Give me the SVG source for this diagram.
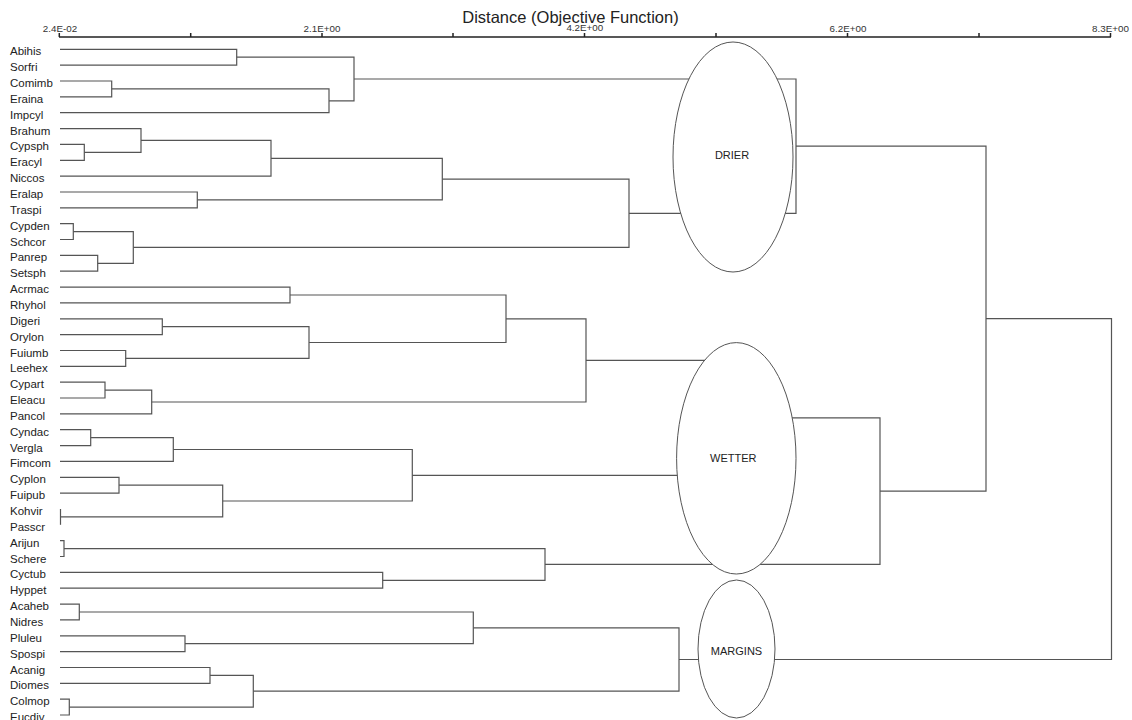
<svg xmlns="http://www.w3.org/2000/svg" width="1132" height="720" viewBox="0 0 1132 720">
<style>
text{font-family:"Liberation Sans",Arial,sans-serif;fill:#222}
.leaf{font-size:11.5px}
.ax{font-size:9.8px;text-anchor:middle;fill:#333}
.title{font-size:16.5px;text-anchor:middle}
.c{fill:none;stroke:#555;stroke-width:1.2}
.axis{fill:none;stroke:#222;stroke-width:1.5}
.cl{fill:#fff;stroke:#555;stroke-width:1}
.cll{font-size:11px;text-anchor:middle}
</style>
<rect width="1132" height="720" fill="#fff"/>
<g id="axis">
<text class="title" x="570.5" y="23.3">Distance (Objective Function)</text>
<path class="axis" d="M59 37H1111M59.3 33V37M190.7 33V37M322 33V37M453 33V37M584.5 33V37M716 33V37M847.5 33V37M979 33V37M1110.5 33V37"/>
<text class="ax" x="60" y="31.5">2.4E-02</text>
<text class="ax" x="322" y="31.5">2.1E+00</text>
<text class="ax" x="584.8" y="31">4.2E+00</text>
<text class="ax" x="848" y="31.5">6.2E+00</text>
<text class="ax" x="1110.5" y="31.5">8.3E+00</text>
</g>
<g id="connectors" class="c">
<path d="M60 49.3H236.7V65.2H60"/>
<path d="M60 81H111.7V96.9H60"/>
<path d="M111.7 88.9H329V112.7H60"/>
<path d="M236.7 57.2H354V100.8H329"/>
<path d="M60 144.4H84.3V160.3H60"/>
<path d="M60 128.6H141V152.3H84.3"/>
<path d="M141 140.4H271V176.1H60"/>
<path d="M60 192H197.3V207.8H60"/>
<path d="M271 158.3H442.3V199.9H197.3"/>
<path d="M60 223.7H73.3V239.5H60"/>
<path d="M60 255.4H97.7V271.2H60"/>
<path d="M73.3 231.6H133.3V263.3H97.7"/>
<path d="M442.3 179.1H629V247.4H133.3"/>
<path d="M354 79H796V213.3H629"/>
<path d="M60 287.1H290V302.9H60"/>
<path d="M60 318.8H162.3V334.6H60"/>
<path d="M60 350.5H125.7V366.3H60"/>
<path d="M162.3 326.7H309V358.4H125.7"/>
<path d="M290 295H506V342.5H309"/>
<path d="M60 382.2H105V398H60"/>
<path d="M105 390.1H151.7V413.9H60"/>
<path d="M506 318.8H586V402H151.7"/>
<path d="M60 429.7H90.7V445.6H60"/>
<path d="M90.7 437.6H173.3V461.4H60"/>
<path d="M60 477.3H119V493.1H60"/>
<path d="M60.5 509V524.8"/>
<path d="M119 485.2H222.7V516.9H60.5"/>
<path d="M173.3 449.5H412.3V501H222.7"/>
<path d="M586 360.4H760V475.3H412.3"/>
<path d="M60 540.7H64V556.5H60"/>
<path d="M60 572.4H382.7V588.2H60"/>
<path d="M64 548.6H545V580.3H382.7"/>
<path d="M760 417.8H880V564.4H545"/>
<path d="M796 146.1H986V491.1H880"/>
<path d="M60 604.1H79.3V619.9H60"/>
<path d="M60 635.8H185V651.6H60"/>
<path d="M79.3 612H473.3V643.7H185"/>
<path d="M60 667.5H210V683.3H60"/>
<path d="M60 699.2H69.3V715H60"/>
<path d="M210 675.4H253.3V707.1H69.3"/>
<path d="M473.3 627.8H679V691.2H253.3"/>
<path d="M986 318.6H1111.5V659.5H679"/>
</g>
<g id="leaves" class="leaf">
<text x="10" y="55.3">Abihis</text>
<text x="10" y="71.2">Sorfri</text>
<text x="10" y="87">Comimb</text>
<text x="10" y="102.9">Eraina</text>
<text x="10" y="118.7">Impcyl</text>
<text x="10" y="134.6">Brahum</text>
<text x="10" y="150.4">Cypsph</text>
<text x="10" y="166.3">Eracyl</text>
<text x="10" y="182.1">Niccos</text>
<text x="10" y="198">Eralap</text>
<text x="10" y="213.8">Traspi</text>
<text x="10" y="229.7">Cypden</text>
<text x="10" y="245.5">Schcor</text>
<text x="10" y="261.4">Panrep</text>
<text x="10" y="277.2">Setsph</text>
<text x="10" y="293.1">Acrmac</text>
<text x="10" y="308.9">Rhyhol</text>
<text x="10" y="324.8">Digeri</text>
<text x="10" y="340.6">Orylon</text>
<text x="10" y="356.5">Fuiumb</text>
<text x="10" y="372.3">Leehex</text>
<text x="10" y="388.2">Cypart</text>
<text x="10" y="404">Eleacu</text>
<text x="10" y="419.9">Pancol</text>
<text x="10" y="435.7">Cyndac</text>
<text x="10" y="451.6">Vergla</text>
<text x="10" y="467.4">Fimcom</text>
<text x="10" y="483.3">Cyplon</text>
<text x="10" y="499.1">Fuipub</text>
<text x="10" y="515">Kohvir</text>
<text x="10" y="530.8">Passcr</text>
<text x="10" y="546.7">Arijun</text>
<text x="10" y="562.5">Schere</text>
<text x="10" y="578.4">Cyctub</text>
<text x="10" y="594.2">Hyppet</text>
<text x="10" y="610.1">Acaheb</text>
<text x="10" y="625.9">Nidres</text>
<text x="10" y="641.8">Pluleu</text>
<text x="10" y="657.6">Spospi</text>
<text x="10" y="673.5">Acanig</text>
<text x="10" y="689.3">Diomes</text>
<text x="10" y="705.2">Colmop</text>
<text x="10" y="721">Eucdiv</text>
</g>
<g id="drier">
<ellipse class="cl" cx="733" cy="157" rx="60" ry="115"/>
<text class="cll" x="732" y="159">DRIER</text>
</g>
<g id="wetter">
<ellipse class="cl" cx="736.3" cy="458.3" rx="59.7" ry="115.7"/>
<text class="cll" x="733.3" y="461.7">WETTER</text>
</g>
<g id="margins">
<ellipse class="cl" cx="736.5" cy="649" rx="38.5" ry="69"/>
<text class="cll" x="736.5" y="655">MARGINS</text>
</g>
</svg>
